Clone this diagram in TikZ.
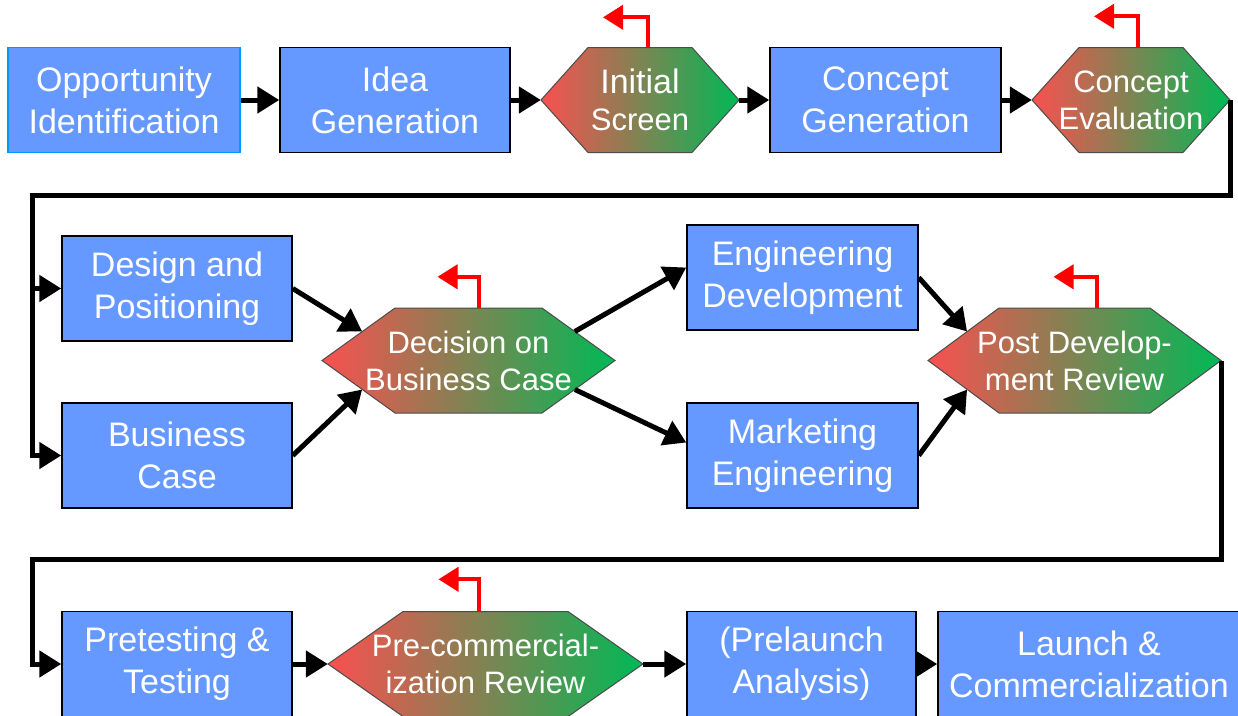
\documentclass[tikz,border=0pt]{standalone}
\usepackage{fontspec}
\setmainfont{Liberation Sans}
\usetikzlibrary{arrows.meta}

\definecolor{boxblue}{RGB}{102,153,255}
\definecolor{edgeblue}{RGB}{0,153,255}
\definecolor{hexred}{RGB}{250,80,80}
\definecolor{hexgreen}{RGB}{0,185,85}

% name, x, y, half width, slant, text
\newcommand{\hexstep}[6]{%
    \path[hexfill] (#2-#4, #3) -- (#2-#4+#5, #3-52.5) -- (#2+#4-#5, #3-52.5) -- (#2+#4, #3)
        -- (#2+#4-#5, #3+52.5) -- (#2-#4+#5, #3+52.5) -- cycle;
    \node[hexa, minimum width=2*#4] at (#2, #3) (#1) {#6};
    \coordinate (#1-uw) at (#2-#4+#5*0.55, #3-29);
    \coordinate (#1-lw) at (#2-#4+#5*0.55, #3+29);
    \coordinate (#1-ue) at (#2+#4-#5*0.55, #3-29);
    \coordinate (#1-le) at (#2+#4-#5*0.55, #3+29);
}

\begin{document}
\begin{tikzpicture}[x=1pt, y=-1pt,
    box/.style={rectangle, draw=black, line width=1.5pt, fill=boxblue, text=white,
        minimum width=230pt, minimum height=105pt, inner sep=0pt, align=center,
        font=\fontsize{34}{42}\selectfont},
    hexfill/.style={draw=black!70, line width=1pt, left color=hexred, right color=hexgreen},
    hexa/.style={rectangle, text=white, minimum height=105pt, inner sep=0pt, align=center,
        font=\fontsize{31}{37}\selectfont},
    flow/.style={line width=5pt, -{Triangle[length=22pt,width=26pt]}},
    back/.style={red, line width=4pt, -{Triangle[length=20pt,width=24pt]}}]
        \useasboundingbox (0, 0) rectangle (1238, 715);
        \clip (0, 0) rectangle (1238, 715);

        % first row
        \node[box, draw=edgeblue, minimum width=232pt] at (124, 100) (opp) {Opportunity\\Identification};
        \node[box] at (395, 100) (idea) {Idea\\Generation};
        \hexstep{iscreen}{640}{100}{99}{47}{\fontsize{34}{41}\selectfont Initial\\Screen}
        \node[box, minimum width=231pt] at (885.5, 100) (cgen) {Concept\\Generation};
        \hexstep{ceval}{1131}{100}{99}{47}{Concept\\Evaluation}

        % second row
        \node[box] at (177, 288.5) (design) {Design and\\Positioning};
        \node[box] at (177, 455.5) (bcase) {Business\\Case};
        \hexstep{dec}{468.5}{360.5}{146.5}{73}{Decision on\\Business Case}
        \node[box, minimum width=231pt] at (802.5, 277.5) (eng) {Engineering\\Development};
        \node[box, minimum width=231pt] at (802.5, 455.5) (mkt) {Marketing\\Engineering};
        \hexstep{post}{1074.5}{360.5}{146.5}{71}{Post Develop-\\ment Review}

        % third row
        \node[box] at (177, 664) (pre) {Pretesting \&\\Testing};
        \hexstep{prec}{485.5}{664}{157.5}{75}{Pre-commercial-\\ization Review}
        \node[box, minimum width=229pt] at (801.5, 664) (prel) {(Prelaunch\\Analysis)};
        \node[box, minimum width=302pt] at (1089, 664) (launch) {Launch \&\\Commercialization};

        \coordinate (bend1) at (32, 195);
        \coordinate (bend2) at (32, 559);

        \draw[flow] (opp) -- (idea);
        \draw[flow] (idea) -- (iscreen);
        \draw[flow] (iscreen) -- (cgen);
        \draw[flow] (cgen) -- (ceval);
        \draw[flow] (ceval.east) |- (bend1) |- (design.west);
        \draw[flow] (bend1) |- (bcase.west);

        \draw[flow] (design.east) -- (dec-uw);
        \draw[flow] (bcase.east) -- (dec-lw);
        \draw[flow] (dec-ue) -- ([yshift=10pt]eng.west);
        \draw[flow] (dec-le) -- ([yshift=13pt]mkt.west);
        \draw[flow] (eng.east) -- (post-uw);
        \draw[flow] (mkt.east) -- (post-lw);
        \draw[flow] (post.east) |- (bend2) |- (pre.west);

        \draw[flow] (pre) -- (prec);
        \draw[flow] (prec) -- (prel);
        \draw[flow] (prel) -- (launch);

        % way back
        \draw[back] ([xshift=8pt]iscreen.north) -- ++(0, -30) -- ++(-45, 0);
        \draw[back] ([xshift=7pt]ceval.north) -- ++(0, -31) -- ++(-44, 0);
        \draw[back] ([xshift=10pt]dec.north) -- ++(0, -31) -- ++(-41, 0);
        \draw[back] ([xshift=22pt]post.north) -- ++(0, -31) -- ++(-43, 0);
        \draw[back] ([xshift=-7pt]prec.north) -- ++(0, -32) -- ++(-40, 0);
    \end{tikzpicture}
\end{document}
